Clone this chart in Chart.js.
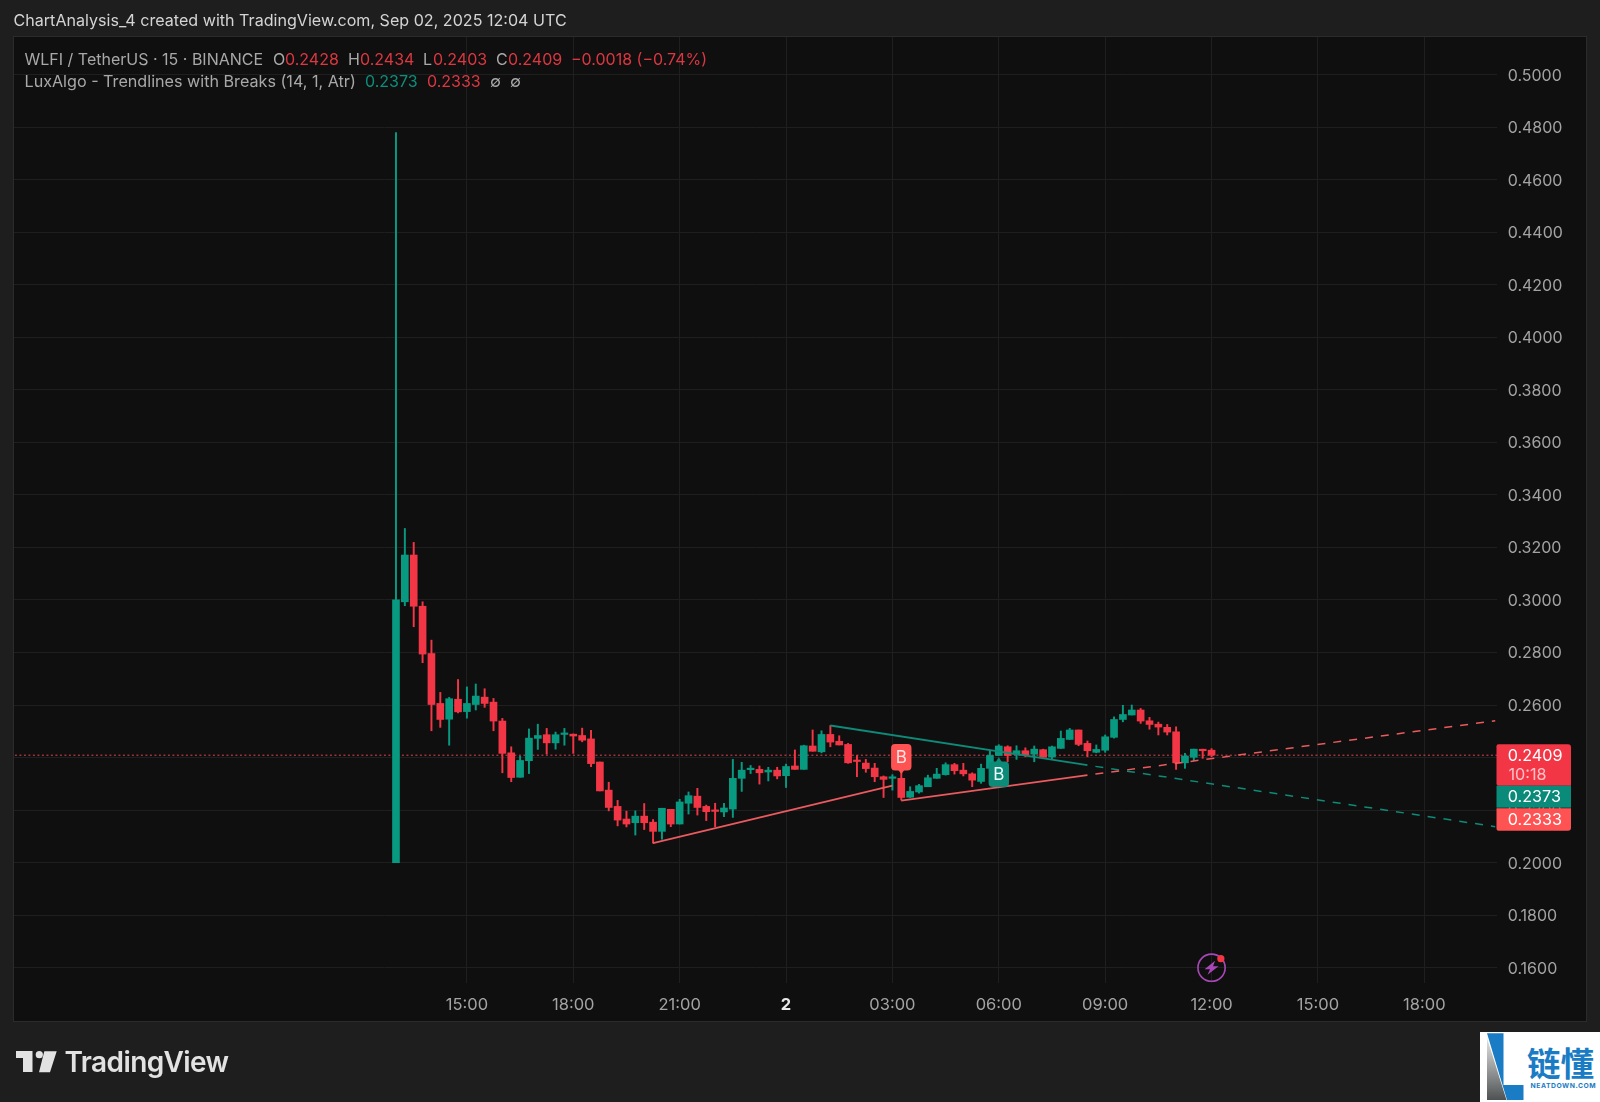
<!DOCTYPE html>
<html>
<head>
<meta charset="utf-8">
<script src="https://cdn.jsdelivr.net/npm/chart.js@4/dist/chart.umd.min.js"></script>
<style>
html,body{margin:0;padding:0;width:1600px;height:1102px;overflow:hidden;background:#1e1e1e}
canvas{position:absolute;left:0;top:0}
.t{position:absolute;white-space:nowrap;font-family:Inter,"Noto Sans",sans-serif;line-height:20px;font-size:16px;color:#a8a8a8}
.r{color:#dc3741}.g{color:#0b8f7b}
#wm{position:absolute;left:1480px;top:1032px;width:120px;height:70px;background:#fff}
</style>
</head>
<body>
<canvas id="c" width="1600" height="1102"></canvas>
<div class="t" style="left:13.5px;top:10px;color:#d4d4d4;font-size:16.1px">ChartAnalysis_4 created with TradingView.com, Sep 02, 2025 12:04 UTC</div>
<div class="t" style="left:24.5px;top:48.5px">WLFI / TetherUS · 15 · BINANCE</div>
<div class="t" style="left:273px;top:48.5px">O</div><div class="t r" style="left:285px;top:48.5px">0.2428</div>
<div class="t" style="left:348px;top:48.5px">H</div><div class="t r" style="left:360px;top:48.5px">0.2434</div>
<div class="t" style="left:423px;top:48.5px">L</div><div class="t r" style="left:433px;top:48.5px">0.2403</div>
<div class="t" style="left:496px;top:48.5px">C</div><div class="t r" style="left:508px;top:48.5px">0.2409</div>
<div class="t r" style="left:571px;top:48.5px">−0.0018 (−0.74%)</div>
<div class="t" style="left:24.5px;top:70.5px;font-size:16.15px">LuxAlgo - Trendlines with Breaks (14, 1, Atr)</div>
<div class="t g" style="left:365px;top:70.5px">0.2373</div>
<div class="t r" style="left:427px;top:70.5px">0.2333</div>
<div class="t" style="left:490px;top:70.5px">∅</div><div class="t" style="left:510px;top:70.5px">∅</div>
<svg style="position:absolute;left:0;top:1040px" width="64" height="40" viewBox="0 1040 64 40">
<path fill="#e2e2e2" d="M16 1051h16.5v21h-9.5v-14h-7zM44.3 1051.3h12.4L50 1072.3H39z"/><circle fill="#e2e2e2" cx="39.3" cy="1054.7" r="3.6"/>
</svg>
<div class="t" style="left:64.500px;top:1046px;line-height:32px;font-size:28px;font-weight:600;color:#e2e2e2;letter-spacing:-.6px">TradingView</div>
<div id="wm"></div>
<svg style="position:absolute;left:1480px;top:1032px" width="120" height="70" viewBox="1480 1032 120 70">
<defs><linearGradient id="gr" x1="0" y1="0" x2="0" y2="1"><stop offset="0" stop-color="#e4e4e4"/><stop offset="1" stop-color="#4e5252"/></linearGradient></defs>
<path fill="#1a7cc4" d="M1487 1033.3h16.5v51.7h20v15h-16.500z"/>
<path fill="url(#gr)" d="M1487 1038l19.500 62H1487z"/>
</svg>
<div class="t" style="left:1527px;top:1044px;font-family:'Noto Sans CJK SC';font-size:33.500px;font-weight:700;line-height:36px;color:#1a7cc4">链懂</div>
<div class="t" style="left:1530.500px;top:1081px;font-size:6.800px;font-weight:700;line-height:9px;letter-spacing:.55px;color:#1a7cc4">NEATDOWN.COM</div>
<script>
const barTimes = ['13:00','13:15','13:30','13:45','14:00','14:15','14:30','14:45','15:00','15:15','15:30','15:45','16:00','16:15','16:30','16:45','17:00','17:15','17:30','17:45','18:00','18:15','18:30','18:45','19:00','19:15','19:30','19:45','20:00','20:15','20:30','20:45','21:00','21:15','21:30','21:45','22:00','22:15','22:30','22:45','23:00','23:15','23:30','23:45','00:00','00:15','00:30','00:45','01:00','01:15','01:30','01:45','02:00','02:15','02:30','02:45','03:00','03:15','03:30','03:45','04:00','04:15','04:30','04:45','05:00','05:15','05:30','05:45','06:00','06:15','06:30','06:45','07:00','07:15','07:30','07:45','08:00','08:15','08:30','08:45','09:00','09:15','09:30','09:45','10:00','10:15','10:30','10:45','11:00','11:15','11:30','11:45','12:00'];
const opens  = [.2000,.2993,.3171,.2976,.2796,.2606,.2546,.2622,.2575,.2602,.2630,.2611,.2539,.2418,.2325,.2388,.2473,.2487,.2456,.2488,.2489,.2484,.2471,.2383,.2276,.2214,.2166,.2152,.2177,.2154,.2119,.2203,.2147,.2226,.2253,.2214,.2198,.2193,.2204,.2321,.2354,.2355,.2345,.2352,.2331,.2368,.2355,.2444,.2422,.2488,.2462,.2450,.2388,.2379,.2360,.2327,.2321,.2321,.2249,.2269,.2289,.2321,.2335,.2373,.2352,.2338,.2309,.2359,.2408,.2441,.2412,.2426,.2413,.2430,.2402,.2435,.2469,.2505,.2454,.2420,.2428,.2477,.2545,.2562,.2581,.2540,.2527,.2515,.2498,.2380,.2401,.2430,.2428];
const highs  = [.4779,.3272,.3219,.2993,.2847,.2648,.2629,.2697,.2669,.2680,.2662,.2625,.2549,.2441,.2405,.2509,.2527,.2511,.2497,.2511,.2490,.2512,.2504,.2383,.2306,.2237,.2196,.2197,.2225,.2164,.2207,.2203,.2241,.2269,.2283,.2219,.2226,.2226,.2393,.2382,.2370,.2368,.2363,.2363,.2375,.2429,.2447,.2505,.2502,.2522,.2483,.2454,.2408,.2393,.2378,.2330,.2335,.2346,.2289,.2298,.2333,.2359,.2380,.2378,.2378,.2342,.2375,.2426,.2449,.2445,.2445,.2437,.2444,.2432,.2444,.2501,.2511,.2505,.2463,.2448,.2486,.2555,.2599,.2600,.2587,.2553,.2535,.2526,.2517,.2416,.2432,.2432,.2434];
const lows   = [.2000,.2978,.2898,.2761,.2502,.2515,.2447,.2570,.2550,.2581,.2591,.2502,.2342,.2308,.2325,.2339,.2431,.2413,.2432,.2447,.2416,.2460,.2365,.2273,.2197,.2140,.2136,.2105,.2126,.2074,.2089,.2137,.2147,.2185,.2181,.2160,.2137,.2175,.2172,.2271,.2339,.2299,.2311,.2319,.2286,.2355,.2355,.2424,.2418,.2441,.2448,.2378,.2327,.2344,.2308,.2248,.2276,.2238,.2248,.2264,.2289,.2321,.2333,.2337,.2330,.2289,.2302,.2359,.2408,.2384,.2393,.2403,.2384,.2401,.2393,.2435,.2469,.2445,.2403,.2418,.2420,.2474,.2536,.2562,.2530,.2508,.2486,.2486,.2355,.2359,.2388,.2397,.2403];
const closes = [.3000,.3171,.2976,.2794,.2602,.2545,.2624,.2574,.2606,.2634,.2606,.2539,.2416,.2324,.2389,.2474,.2484,.2456,.2487,.2492,.2482,.2466,.2377,.2273,.2210,.2162,.2147,.2177,.2152,.2119,.2207,.2147,.2231,.2255,.2210,.2194,.2195,.2208,.2321,.2352,.2358,.2342,.2352,.2330,.2366,.2355,.2445,.2424,.2488,.2459,.2448,.2380,.2385,.2358,.2327,.2317,.2323,.2248,.2271,.2293,.2323,.2337,.2373,.2350,.2338,.2314,.2359,.2408,.2444,.2408,.2426,.2411,.2432,.2401,.2441,.2473,.2505,.2450,.2426,.2431,.2479,.2545,.2564,.2581,.2539,.2526,.2516,.2497,.2380,.2406,.2432,.2426,.2409];
const yTickValues = [.16,.18,.20,.22,.24,.26,.28,.30,.32,.34,.36,.38,.40,.42,.44,.46,.48,.50];
const xTickBars   = [8,20,32,44,56,68,80,92,104,116];
const xTickLabels = ['15:00','18:00','21:00','2','03:00','06:00','09:00','12:00','15:00','18:00'];
const supportSolid    = [{x:29,y:.2074},{x:56,y:.2293}];
const supportSolid2   = [{x:57,y:.2236},{x:78,y:.2333}];
const supportDashed   = [{x:78,y:.2333},{x:124,y:.2540}];
const resistSolid     = [{x:49,y:.2522},{x:78,y:.2371}];
const resistDashed    = [{x:78,y:.2371},{x:124,y:.2137}];
const lastPrice = .2409, countdown = '10:18';
const upperValue = '0.2373', lowerValue = '0.2333';
const breakRed = {bar:57, price:.2337}, breakGreen = {bar:68, price:.2402};
const alertBar = 92, alertPrice = .16;

const GREEN='#089981', RED='#f23645', RED2='#ff5252';
const isUp = closes.map((c,i)=>c>=opens[i]);
const colors = isUp.map(u=>u?GREEN:RED);

function roundRect(x,l,t,w,h,r){x.beginPath();x.roundRect(l,t,w,h,r);x.fill();}

const overlay = {
  id:'overlay',
  afterUpdate(chart){
    chart.scales.y.getLabelItems().forEach(i=>{i.options.translation[1]+=1.2;});
    chart.scales.x.getLabelItems().forEach(i=>{i.options.translation[1]-=.5;});
  },
  beforeDraw(chart){
    const x=chart.ctx; x.save();
    x.fillStyle='#0f0f0f'; x.fillRect(14,37,1572,984);
    x.strokeStyle='#2b2b2b'; x.lineWidth=1; x.strokeRect(13.5,36.5,1573,985);
    x.restore();
  },
  afterDatasetsDraw(chart){
    const x=chart.ctx, sx=chart.scales.x, sy=chart.scales.y;
    x.save();
    x.textAlign='center'; x.textBaseline='middle';
    // red break tag
    let px=sx.getPixelForValue(breakRed.bar), py=sy.getPixelForValue(breakRed.price);
    x.fillStyle=RED2;
    roundRect(x,px-10.2,py-30,20.4,26.5,4);
    x.beginPath();x.moveTo(px-3,py-4);x.lineTo(px+3,py-4);x.lineTo(px,py);x.fill();
    x.fillStyle='#ffe3e3'; x.font='17px Inter';
    x.fillText('B',px,py-16.5);
    // green break tag
    px=sx.getPixelForValue(breakGreen.bar); py=sy.getPixelForValue(breakGreen.price);
    x.fillStyle='#0b8b78';
    roundRect(x,px-10.2,py+4.5,20.4,25.5,4);
    x.beginPath();x.moveTo(px-3,py+5);x.lineTo(px+3,py+5);x.lineTo(px,py);x.fill();
    x.fillStyle='#f0fffb';
    x.fillText('B',px,py+18);
    // alert icon
    px=sx.getPixelForValue(alertBar); py=sy.getPixelForValue(alertPrice);
    x.strokeStyle='#a848b8'; x.lineWidth=1.6;
    x.beginPath();x.arc(px,py,13.600,0,Math.PI*2);x.stroke();
    x.fillStyle='#a848b8';
    x.beginPath();
    [[3.5,-7],[-7,1.5],[-1.500,1.500],[-4,7],[7,-1.500],[1.500,-1.500]].forEach((p,i)=>i?x.lineTo(px+p[0],py+p[1]):x.moveTo(px+p[0],py+p[1]));
    x.closePath();x.fill();
    x.fillStyle=RED; x.beginPath();x.arc(px+9.300,py-9,3.600,0,Math.PI*2);x.fill();
    // price tags
    const ly=sy.getPixelForValue(lastPrice);
    x.font='16.2px Inter'; x.textAlign='left';
    x.fillStyle=RED; roundRect(x,1496.5,ly-11,74.500,41.500,[2,3,0,2]);
    x.fillStyle='#0a8a78'; x.fillRect(1496.5,ly+30.5,74.500,22);
    x.fillStyle=RED2; roundRect(x,1496.5,ly+53,74.500,22.500,[0,0,3,2]);
    x.fillStyle='#ffffff'; x.fillText(lastPrice.toFixed(4),1507.7,ly+.5);
    x.fillStyle='#ffc0c6'; x.fillText(countdown,1508.500,ly+19.500);
    x.fillStyle='#ffffff'; x.fillText(upperValue,1507.7,ly+41.5);
    x.fillText(lowerValue,1507.7,ly+65);
    x.restore();
  }
};

new Chart(document.getElementById('c'),{
  type:'bar',
  data:{
    datasets:[
      {type:'line',label:'supportSolid',data:supportSolid,borderColor:'#ea5a5e',borderWidth:1.8,pointRadius:0,order:1},
      {type:'line',label:'supportSolid2',data:supportSolid2,borderColor:'#ea5a5e',borderWidth:1.8,pointRadius:0,order:1},
      {type:'line',label:'supportDashed',data:supportDashed,borderColor:'#ea5a5e',borderWidth:1.5,borderDash:[8,8],borderDashOffset:8,pointRadius:0,order:1},
      {type:'line',label:'resistSolid',data:resistSolid,borderColor:'#0e8a78',borderWidth:1.8,pointRadius:0,order:1},
      {type:'line',label:'resistDashed',data:resistDashed,borderColor:'#0e8a78',borderWidth:1.5,borderDash:[8,8],borderDashOffset:8,pointRadius:0,order:1},
      {label:'body',data:opens.map((o,i)=>({x:i,y:[o,closes[i]]})),backgroundColor:colors,barThickness:7,minBarLength:1.5,grouped:false,order:2},
      {label:'wick',data:lows.map((l,i)=>({x:i,y:[l,highs[i]]})),backgroundColor:colors,barThickness:1.3,grouped:false,order:3},
      {type:'line',label:'lastPrice',data:[{x:-44,y:lastPrice},{x:125,y:lastPrice}],borderColor:'#e0454f',borderWidth:1,borderDash:[2,2.5],pointRadius:0,order:4}
    ]
  },
  options:{
    responsive:false,animation:false,devicePixelRatio:1,
    layout:{padding:{left:14,top:37,right:14,bottom:81}},
    plugins:{legend:{display:false},tooltip:{enabled:false}},
    scales:{
      x:{type:'linear',offset:false,min:-43.09,max:124.2,
        grid:{color:'#1f1f1f',offset:false,drawTicks:false},border:{display:false},
        afterBuildTicks(s){s.ticks=xTickBars.map(v=>({value:v}));},
        afterFit(s){s.height=38;},
        ticks:{autoSkip:false,maxRotation:0,padding:13,
          callback:(v,i)=>xTickLabels[i],
          color:c=>xTickLabels[c.index]==='2'?'#e8e8e8':'#a3a3a3',
          font:c=>({family:'Inter',size:16.5,weight:xTickLabels[c.index]==='2'?'700':'400'})}},
      y:{position:'right',min:.15418,max:.5143,
        grid:{color:'#1f1f1f',drawTicks:false},border:{display:false},
        afterBuildTicks(s){s.ticks=yTickValues.map(v=>({value:v}));},
        afterFit(s){s.width=89;},
        ticks:{padding:10.7,color:'#a3a3a3',font:{family:'Inter',size:16},callback:v=>v.toFixed(4)}}
    }
  },
  plugins:[overlay]
});
</script>
</body>
</html>
